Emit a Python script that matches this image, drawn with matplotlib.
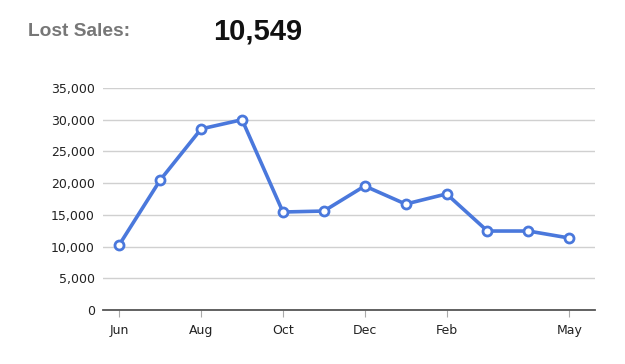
import matplotlib.pyplot as plt
from matplotlib.ticker import FuncFormatter

months = ['Jun', 'Jul', 'Aug', 'Sep', 'Oct', 'Nov', 'Dec', 'Jan', 'Feb', 'Mar', 'Apr', 'May']
lost_sales = [10300, 20500, 28550, 30000, 15450, 15600, 19550, 16700, 18300, 12450, 12450, 11350]
shown_ticks = ['Jun', 'Aug', 'Oct', 'Dec', 'Feb', 'May']
y_ticks = [0, 5000, 10000, 15000, 20000, 25000, 30000, 35000]
total_label = '10,549'


def main():
    fig = plt.figure(figsize=(6.25, 3.64), dpi=100)
    ax = fig.add_axes([103 / 625, 1 - 310 / 364, 492 / 625, 222 / 364])

    x = list(range(len(months)))
    ax.plot(x, lost_sales, color='#4a78dc', lw=2.6, marker='o', ms=6.5,
            mfc='white', mec='#4a78dc', mew=2, zorder=3)

    ax.set_xlim(-0.4, len(months) - 1 + 0.63)
    ax.set_ylim(0, 35000)
    ax.set_yticks(y_ticks)
    ax.yaxis.set_major_formatter(FuncFormatter(lambda v, p: f'{int(v):,}'))
    ax.set_xticks([months.index(m) for m in shown_ticks])
    ax.set_xticklabels(shown_ticks)
    ax.grid(axis='y', color='#d0d0d0', lw=1)
    ax.set_axisbelow(True)

    for side in ('top', 'right', 'left'):
        ax.spines[side].set_visible(False)
    ax.spines['bottom'].set_color('#555555')
    ax.spines['bottom'].set_linewidth(1.3)
    ax.tick_params(axis='y', length=0, pad=6, labelsize=9, labelcolor='#222222')
    ax.tick_params(axis='x', length=5, color='#aaaaaa', pad=5, labelsize=9, labelcolor='#222222')

    fig.text(28 / 625, 1 - 32 / 364, 'Lost Sales:', family='Liberation Sans', weight='bold',
             fontsize=13.8, color='#777777', va='center')
    fig.text(213 / 625, 1 - 31 / 364, total_label, family='Liberation Sans', weight='bold',
             fontsize=21, color='#111111', va='center')

    fig.savefig('out.png', dpi=100)


if __name__ == '__main__':
    main()
